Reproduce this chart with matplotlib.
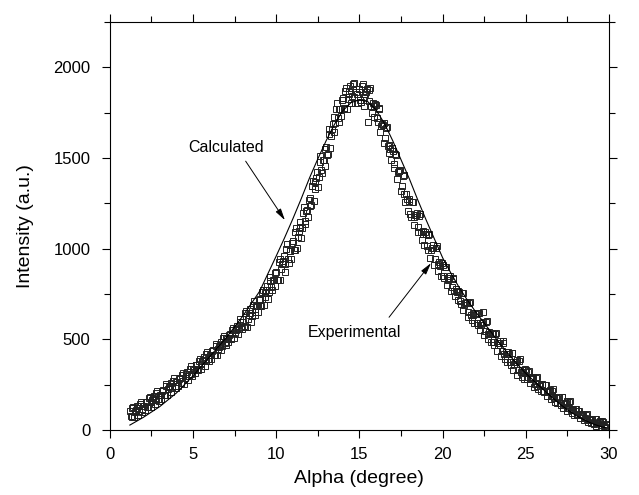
import matplotlib.pyplot as plt
from matplotlib.ticker import MultipleLocator

plt.rcParams["font.family"] = ["Liberation Sans", "DejaVu Sans"]

# experimental points, first scan
exp_alpha = [
    1.2, 1.3, 1.4, 1.5, 1.6, 1.7, 1.8, 1.9, 2.0, 2.1, 2.2, 2.3, 2.4, 2.5, 2.6, 2.7, 2.8, 2.9,
    3.0, 3.1, 3.2, 3.3, 3.4, 3.5, 3.6, 3.7, 3.8, 3.9, 4.0, 4.1, 4.2, 4.3, 4.4, 4.5, 4.6, 4.7, 4.8, 4.9,
    5.0, 5.1, 5.2, 5.3, 5.4, 5.5, 5.6, 5.7, 5.8, 5.9, 6.0, 6.1, 6.2, 6.3, 6.4, 6.5, 6.6, 6.7, 6.8, 6.9,
    7.0, 7.1, 7.2, 7.3, 7.4, 7.5, 7.6, 7.7, 7.8, 7.9, 8.0, 8.1, 8.2, 8.3, 8.4, 8.5, 8.6, 8.7, 8.8, 8.9,
    9.0, 9.1, 9.2, 9.3, 9.4, 9.5, 9.6, 9.7, 9.8, 9.9, 10.0, 10.1, 10.2, 10.3, 10.4, 10.5, 10.6, 10.7,
    10.8, 10.9, 11.0, 11.1, 11.2, 11.3, 11.4, 11.5, 11.6, 11.7, 11.8, 11.9, 12.0, 12.1, 12.2, 12.3,
    12.4, 12.5, 12.6, 12.7, 12.8, 12.9, 13.0, 13.1, 13.2, 13.3, 13.4, 13.5, 13.6, 13.7, 13.8, 13.9,
    14.0, 14.1, 14.2, 14.3, 14.4, 14.5, 14.6, 14.7, 14.8, 14.9, 15.0, 15.1, 15.2, 15.3, 15.4, 15.5,
    15.6, 15.7, 15.8, 15.9, 16.0, 16.1, 16.2, 16.3, 16.4, 16.5, 16.6, 16.7, 16.8, 16.9, 17.0, 17.1,
    17.2, 17.3, 17.4, 17.5, 17.6, 17.7, 17.8, 17.9, 18.0, 18.1, 18.2, 18.3, 18.4, 18.5, 18.6, 18.7,
    18.8, 18.9, 19.0, 19.1, 19.2, 19.3, 19.4, 19.5, 19.6, 19.7, 19.8, 19.9, 20.0, 20.1, 20.2, 20.3,
    20.4, 20.5, 20.6, 20.7, 20.8, 20.9, 21.0, 21.1, 21.2, 21.3, 21.4, 21.5, 21.6, 21.7, 21.8, 21.9,
    22.0, 22.1, 22.2, 22.3, 22.4, 22.5, 22.6, 22.7, 22.8, 22.9, 23.0, 23.1, 23.2, 23.3, 23.4, 23.5,
    23.6, 23.7, 23.8, 23.9, 24.0, 24.1, 24.2, 24.3, 24.4, 24.5, 24.6, 24.7, 24.8, 24.9, 25.0, 25.1,
    25.2, 25.3, 25.4, 25.5, 25.6, 25.7, 25.8, 25.9, 26.0, 26.1, 26.2, 26.3, 26.4, 26.5, 26.6, 26.7,
    26.8, 26.9, 27.0, 27.1, 27.2, 27.3, 27.4, 27.5, 27.6, 27.7, 27.8, 27.9, 28.0, 28.1, 28.2, 28.3,
    28.4, 28.5, 28.6, 28.7, 28.8, 28.9, 29.0, 29.1, 29.2, 29.3, 29.4, 29.5, 29.6, 29.7, 29.8, 29.9,
]
exp_intensity = [
    105, 75, 130, 100, 120, 85, 145, 115, 135, 111, 157, 128, 184, 155, 176, 142, 203, 174,
    195, 173, 221, 194, 252, 225, 246, 212, 273, 244, 265, 241, 287, 258, 314, 285, 308, 276, 339, 312,
    335, 313, 361, 334, 392, 365, 388, 356, 419, 392, 415, 393, 441, 414, 472, 445, 470, 440, 505, 480,
    505, 483, 531, 504, 562, 535, 560, 530, 595, 570, 595, 570, 655, 612, 645, 595, 690, 649, 684, 650,
    722, 684, 773, 734, 771, 725, 824, 787, 826, 796, 872, 826, 942, 888, 934, 870, 996, 942,
    988, 944, 1040, 992, 1114, 1066, 1118, 1060, 1196, 1152, 1208, 1174, 1280, 1240, 1370, 1330,
    1390, 1340, 1476, 1432, 1488, 1454, 1560, 1524, 1658, 1622, 1686, 1640, 1770, 1720, 1770, 1730,
    1830, 1772, 1884, 1826, 1868, 1800, 1908, 1836, 1864, 1802, 1880, 1808, 1906, 1834, 1862, 1700,
    1874, 1788, 1802, 1726, 1790, 1696, 1772, 1678, 1684, 1580, 1664, 1568, 1572, 1486, 1540, 1444,
    1518, 1422, 1426, 1320, 1400, 1300, 1300, 1210, 1260, 1174, 1258, 1172, 1186, 1090, 1180, 1090,
    1100, 1020, 1080, 994, 1078, 992, 1006, 910, 1002, 914, 926, 848, 910, 836, 897, 830,
    839, 765, 834, 767, 776, 716, 762, 696, 757, 690, 699, 625, 698, 635, 648, 592,
    642, 580, 645, 582, 595, 525, 596, 531, 542, 484, 532, 469, 533, 469, 481, 410,
    482, 418, 430, 373, 422, 360, 425, 362, 375, 305, 380, 319, 334, 280, 332, 282,
    324, 281, 288, 240, 288, 246, 254, 217, 250, 208, 251, 209, 217, 170, 218, 176,
    184, 147, 180, 139, 183, 142, 151, 105, 153, 111, 119, 82, 115, 83, 108, 82,
    86, 57, 85, 59, 63, 40, 59, 35, 62, 38, 44, 17, 48, 25, 32, 12,
]

# experimental points, second scan (interleaved)
exp2_alpha = [
    1.25, 1.35, 1.45, 1.55, 1.65, 1.75, 1.85, 1.95, 2.05, 2.15, 2.25, 2.35, 2.45, 2.55, 2.65, 2.75,
    2.85, 2.95, 3.05, 3.15, 3.25, 3.35, 3.45, 3.55, 3.65, 3.75, 3.85, 3.95, 4.05, 4.15, 4.25, 4.35,
    4.45, 4.55, 4.65, 4.75, 4.85, 4.95, 5.05, 5.15, 5.25, 5.35, 5.45, 5.55, 5.65, 5.75, 5.85, 5.95,
    6.05, 6.15, 6.25, 6.35, 6.45, 6.55, 6.65, 6.75, 6.85, 6.95, 7.05, 7.15, 7.25, 7.35, 7.45, 7.55,
    7.65, 7.75, 7.85, 7.95,
    8.05, 8.15, 8.25, 8.35, 8.45, 8.55, 8.65, 8.75, 8.85, 8.95, 9.05, 9.15, 9.25, 9.35, 9.45, 9.55,
    9.65, 9.75, 9.85, 9.95,
    10.05, 10.15, 10.25, 10.35, 10.45, 10.55, 10.65, 10.75, 10.85, 10.95, 11.05, 11.15, 11.25, 11.35,
    11.45, 11.55, 11.65, 11.75, 11.85, 11.95, 12.05, 12.15, 12.25, 12.35, 12.45, 12.55, 12.65, 12.75,
    12.85, 12.95, 13.05, 13.15, 13.25, 13.35, 13.45, 13.55, 13.65, 13.75, 13.85, 13.95, 14.05, 14.15,
    14.25, 14.35, 14.45, 14.55, 14.65, 14.75, 14.85, 14.95, 15.05, 15.15, 15.25, 15.35, 15.45, 15.55,
    15.65, 15.75, 15.85, 15.95, 16.05, 16.15, 16.25, 16.35, 16.45, 16.55, 16.65, 16.75, 16.85, 16.95,
    17.05, 17.15, 17.25, 17.35, 17.45, 17.55, 17.65, 17.75, 17.85, 17.95, 18.05, 18.15, 18.25, 18.35,
    18.45, 18.55, 18.65, 18.75, 18.85, 18.95, 19.05, 19.15, 19.25, 19.35, 19.45, 19.55, 19.65, 19.75,
    19.85, 19.95,
    20.05, 20.15, 20.25, 20.35, 20.45, 20.55, 20.65, 20.75, 20.85, 20.95, 21.05, 21.15, 21.25, 21.35,
    21.45, 21.55, 21.65, 21.75, 21.85, 21.95, 22.05, 22.15, 22.25, 22.35, 22.45, 22.55, 22.65, 22.75,
    22.85, 22.95, 23.05, 23.15, 23.25, 23.35, 23.45, 23.55, 23.65, 23.75, 23.85, 23.95, 24.05, 24.15,
    24.25, 24.35, 24.45, 24.55, 24.65, 24.75, 24.85, 24.95,
    25.05, 25.15, 25.25, 25.35, 25.45, 25.55, 25.65, 25.75, 25.85, 25.95, 26.05, 26.15, 26.25, 26.35,
    26.45, 26.55, 26.65, 26.75, 26.85, 26.95, 27.05, 27.15, 27.25, 27.35, 27.45, 27.55, 27.65, 27.75,
    27.85, 27.95,
    28.05, 28.15, 28.25, 28.35, 28.45, 28.55, 28.65, 28.75, 28.85, 28.95, 29.05, 29.15, 29.25, 29.35,
    29.45, 29.55, 29.65, 29.75, 29.85,
]
exp2_intensity = [
    78, 122, 72, 112, 132, 107, 157, 102, 133, 154, 130, 176, 127, 168, 189, 165,
    216, 162, 194, 217, 195, 243, 196, 238, 259, 235, 286, 232, 263, 284, 260, 306,
    257, 299, 322, 300, 353, 301, 334, 357, 335, 383, 336, 379, 402, 380, 433, 381,
    414, 437, 415, 463, 416, 460, 485, 465, 520, 470, 504, 527, 505, 553, 506, 550,
    575, 555, 610, 560,
    573, 643, 570, 633, 665, 631, 710, 632, 682, 716, 685, 759, 690, 757, 793, 763,
    846, 772, 826, 864,
    828, 924, 830, 916, 962, 918, 1024, 920, 986, 1032, 991, 1093, 1005, 1097,
    1149, 1113, 1229, 1135, 1211, 1267, 1235, 1345, 1265, 1365, 1425, 1393, 1509, 1415,
    1491, 1547, 1517, 1631, 1555, 1659, 1723, 1690, 1800, 1700, 1770, 1820, 1776, 1868,
    1770, 1852, 1894, 1839, 1910, 1805, 1853, 1881, 1819, 1897, 1785, 1853, 1881, 1812,
    1886, 1750, 1784, 1798, 1718, 1774, 1640, 1686, 1692, 1607, 1671, 1525, 1549, 1553,
    1467, 1521, 1385, 1429, 1433, 1345, 1405, 1255, 1275, 1275, 1192, 1256, 1130, 1184,
    1198, 1120, 1190, 1050, 1080, 1090, 1012, 1076, 950, 1004, 1018, 941, 1013, 875,
    907, 919,
    851, 897, 800, 839, 847, 788, 841, 737, 761, 769, 711, 757, 660, 699,
    707, 650, 707, 607, 635, 647, 593, 643, 550, 593, 650, 549, 604, 502,
    528, 538, 483, 532, 438, 480, 491, 435, 491, 390, 417, 428, 373, 423,
    330, 373, 385, 331, 390, 292, 322, 336,
    291, 323, 260, 287, 294, 256, 294, 227, 245, 253, 216, 249, 187, 215,
    223, 186, 224, 157, 175, 183, 147, 181, 120, 149, 158, 121, 159, 92,
    110, 118,
    88, 107, 69, 85, 89, 66, 88, 47, 57, 61, 39, 60, 24, 42,
    48, 28, 45, 15, 28,
]

# calculated curve
calc_alpha = [1.2, 2, 3, 4, 5, 6, 7, 8, 9, 10, 10.5, 11, 11.5, 12, 12.5, 13, 13.5, 14, 14.5,
              15, 15.5, 16, 16.5, 17, 17.5, 18, 18.5, 19, 19.5, 20, 20.5, 21, 21.5, 22, 22.5,
              23, 23.5, 24, 24.5, 25, 25.5, 26, 26.5, 27, 27.5, 28, 28.5, 29, 29.5, 29.8]
calc_intensity = [28, 70, 130, 205, 300, 405, 510, 630, 765, 960, 1060, 1165, 1275, 1390, 1495,
                  1595, 1685, 1760, 1805, 1820, 1810, 1765, 1690, 1595, 1490, 1385, 1270, 1160,
                  1055, 950, 865, 785, 715, 650, 590, 530, 470, 415, 362, 313, 270, 228, 187,
                  148, 112, 82, 57, 36, 20, 14]

fig = plt.figure(figsize=(6.39, 4.95), dpi=100)
ax = fig.add_axes([0.172, 0.131, 0.781, 0.825])

sq = dict(ls="none", marker="s", ms=4.9, mfc="none", mec="#222222", mew=0.7)
ax.plot(exp_alpha, exp_intensity, **sq)
ax.plot(exp2_alpha, exp2_intensity, **sq)
ax.plot(calc_alpha, calc_intensity, "-", color="black", lw=0.8)

ax.set_xlim(0, 30)
ax.set_ylim(0, 2250)
ax.xaxis.set_major_locator(MultipleLocator(5))
ax.xaxis.set_minor_locator(MultipleLocator(2.5))
ax.yaxis.set_major_locator(MultipleLocator(500))
ax.yaxis.set_minor_locator(MultipleLocator(250))
ax.tick_params(which="both", direction="out", top=True, right=True, labelsize=12, width=0.8)
ax.tick_params(which="major", length=6)
ax.tick_params(which="minor", length=4)
ax.tick_params(axis="y", which="major", pad=8)
ax.tick_params(axis="x", which="major", pad=6)
for s in ax.spines.values():
    s.set_linewidth(0.8)

ax.set_xlabel("Alpha (degree)", fontsize=14, labelpad=6)
ax.set_ylabel("Intensity (a.u.)", fontsize=14, labelpad=14)

arrow = dict(arrowstyle="-|>,head_length=0.7,head_width=0.18", color="black", lw=0.7,
             shrinkA=0, shrinkB=0)
ax.text(6.97, 1559, "Calculated", ha="center", va="center", fontsize=11.5)
ax.annotate("", xy=(10.52, 1157), xytext=(8.16, 1482), arrowprops=arrow)
ax.text(14.67, 540, "Experimental", ha="center", va="center", fontsize=11.5)
ax.annotate("", xy=(19.3, 920), xytext=(16.78, 622), arrowprops=arrow)

fig.savefig("out.png", dpi=100)
